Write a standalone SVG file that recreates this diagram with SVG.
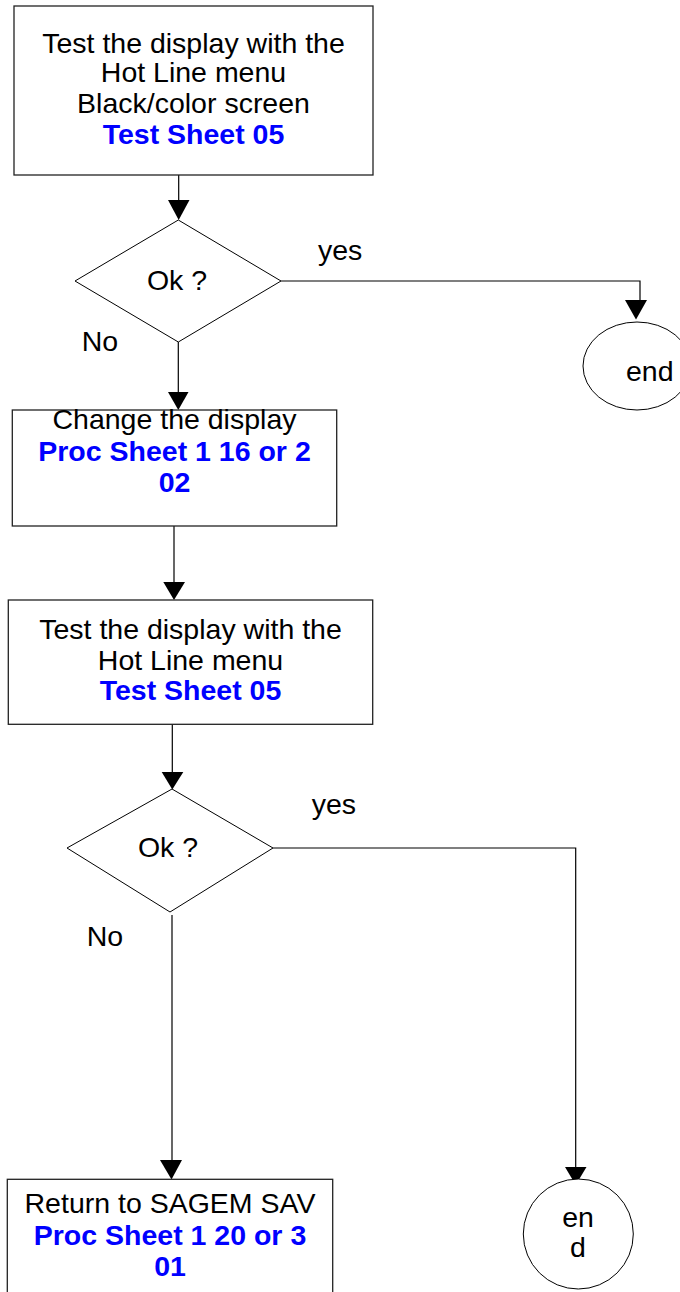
<svg xmlns="http://www.w3.org/2000/svg" width="680" height="1292" viewBox="0 0 680 1292">
<style>
.box{fill:#fff;stroke:#222;stroke-width:1.3}
.shape{fill:#fff;stroke:#000;stroke-width:1}
.ln{fill:none;stroke:#000;stroke-width:1.2}
.ah{fill:#000;stroke:none}
text{font-family:"Liberation Sans",Arial,sans-serif;font-size:28.5px;fill:#000}
.c{text-anchor:middle}
.b{font-weight:bold;fill:#0000ff}
</style>
<rect width="680" height="1292" fill="#fff"/>
<g id="connectors">
<line class="ln" x1="178.7" y1="175" x2="178.7" y2="201"/>
<polygon class="ah" points="168,200 189.5,200 178.7,220"/>
<line class="ln" x1="178.3" y1="342" x2="178.3" y2="393"/>
<polygon class="ah" points="168,392 188.5,392 178.3,410"/>
<polyline class="ln" points="281,281 640,281 640,301"/>
<polygon class="ah" points="625,300 647,300 636,319.5"/>
<line class="ln" x1="174" y1="526" x2="174" y2="583"/>
<polygon class="ah" points="163.3,582 185,582 174,600"/>
<line class="ln" x1="172.3" y1="724" x2="172.3" y2="773"/>
<polygon class="ah" points="161.7,772 183.3,772 172.3,789.5"/>
<line class="ln" x1="172" y1="915" x2="172" y2="1161"/>
<polygon class="ah" points="160,1160 182,1160 171.5,1179.5"/>
<polyline class="ln" points="273,848 575.7,848 575.7,1168"/>
<polygon class="ah" points="565,1167 586.5,1167 575.7,1185"/>
</g>
<g id="box1">
<rect class="box" x="14" y="6" width="359" height="169"/>
<text class="c" x="193.5" y="52.7">Test the display with the</text>
<text class="c" x="193.5" y="81.7">Hot Line menu</text>
<text class="c" x="193.5" y="113.3">Black/color screen</text>
<text class="c b" x="193.5" y="144">Test Sheet 05</text>
</g>
<g id="decision1">
<polygon class="shape" points="178.3,220 281,281 178.3,342 75,281"/>
<text class="c" x="177" y="290">Ok ?</text>
</g>
<g id="label-yes1"><text x="318" y="260">yes</text></g>
<g id="label-no1"><text x="81.7" y="350.7">No</text></g>
<g id="end1">
<ellipse class="shape" cx="637" cy="366" rx="54" ry="44"/>
<text x="626" y="381">end</text>
</g>
<g id="box2">
<rect class="box" x="12.3" y="410" width="324.4" height="116"/>
<text class="c" x="174.5" y="429.3">Change the display</text>
<text class="c b" x="174.5" y="461">Proc Sheet 1 16 or 2</text>
<text class="c b" x="174.5" y="491.7">02</text>
</g>
<g id="box3">
<rect class="box" x="8.3" y="600" width="364.4" height="124.3"/>
<text class="c" x="190.5" y="639">Test the display with the</text>
<text class="c" x="190.5" y="670">Hot Line menu</text>
<text class="c b" x="190.5" y="700">Test Sheet 05</text>
</g>
<g id="decision2">
<polygon class="shape" points="172,789 273,848 170,912 67,848"/>
<text class="c" x="168" y="856.7">Ok ?</text>
</g>
<g id="label-yes2"><text x="311.7" y="814">yes</text></g>
<g id="label-no2"><text x="86.7" y="945.7">No</text></g>
<g id="box4">
<rect class="box" x="7.3" y="1179.3" width="325.4" height="130"/>
<text class="c" x="170" y="1213.3">Return to SAGEM SAV</text>
<text class="c b" x="170" y="1245">Proc Sheet 1 20 or 3</text>
<text class="c b" x="170" y="1276">01</text>
</g>
<g id="end2">
<circle class="shape" cx="578.3" cy="1234" r="55"/>
<text class="c" x="578" y="1226.7">en</text>
<text class="c" x="578" y="1256.7">d</text>
</g>
</svg>
